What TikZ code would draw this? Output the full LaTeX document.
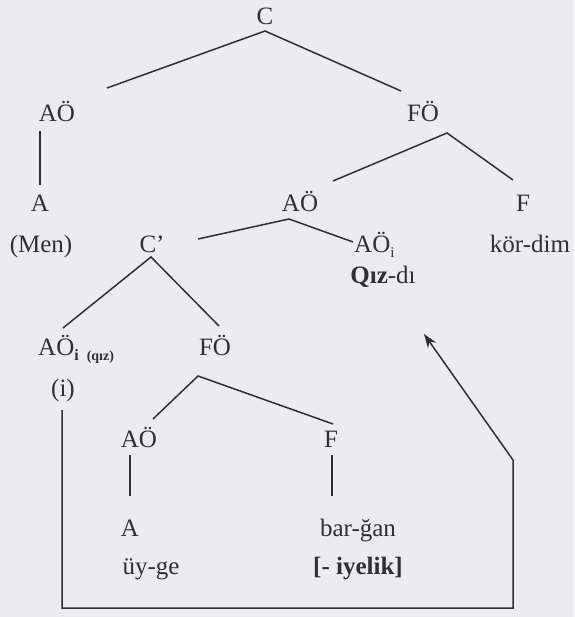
\documentclass[tikz,border=0pt]{standalone}
\usepackage{fontspec}
\setmainfont{Liberation Serif}
\usetikzlibrary{arrows.meta}
\definecolor{paper}{RGB}{236,236,239}
\definecolor{ink}{RGB}{48,48,52}
\begin{document}
\begin{tikzpicture}[x=1pt,y=-1pt,
  lbl/.style={anchor=base,inner sep=0pt,text=ink,font=\fontsize{25}{30}\selectfont},
  branch/.style={draw=ink,line width=1.5pt}]
\fill[paper] (0,0) rectangle (574,617);
\useasboundingbox (0,0) rectangle (574,617);
% labels
\node[lbl] (C) at (265,25) {C};
\node[lbl] (AO1) at (57,122) {AÖ};
\node[lbl] (FO1) at (423,122) {FÖ};
\node[lbl] (A1) at (40,212) {A};
\node[lbl] (AO2) at (300,212) {AÖ};
\node[lbl] (F1) at (523,212) {F};
\node[lbl] (Men) at (41,252) {(Men)};
\node[lbl] (Cp) at (152,252) {C’};
\node[lbl,anchor=base west] (AOi) at (354,252) {AÖ\raisebox{-0.22em}{\fontsize{15}{15}\selectfont i}};
\node[lbl] (kordim) at (530,252) {kör-dim};
\node[lbl] (qizdi) at (383,283) {\textbf{Qız}-dı};
\node[lbl,anchor=base west] (AOiq) at (38,355) {AÖ\raisebox{-0.22em}{\fontsize{16}{16}\selectfont\bfseries i\hspace{0.5em}\fontsize{14}{14}\selectfont(qız)}};
\node[lbl] (FO2) at (215,355) {FÖ};
\node[lbl] (i) at (63,396) {(i)};
\node[lbl] (AO3) at (139,447) {AÖ};
\node[lbl] (F2) at (331,447) {F};
\node[lbl] (A2) at (130,536) {A};
\node[lbl] (bargan) at (358,536) {bar-ğan};
\node[lbl] (uyge) at (151,574) {üy-ge};
\node[lbl] (iyelik) at (358,574) {\textbf{[- iyelik]}};
% branch points
\coordinate (c0) at (265,31);
\coordinate (c1) at (107,88);
\coordinate (c2) at (401,91);
\coordinate (a1t) at (40,131);
\coordinate (a1b) at (40,185);
\coordinate (f0) at (447,133);
\coordinate (f1) at (333,181);
\coordinate (f2) at (513,180);
\coordinate (n0) at (289,219);
\coordinate (n1) at (198,239);
\coordinate (n2) at (353,242);
\coordinate (p0) at (151,257);
\coordinate (p1) at (63,328);
\coordinate (p2) at (219,326);
\coordinate (g0) at (198,376);
\coordinate (g1) at (153,419);
\coordinate (g2) at (333,424);
\coordinate (v1t) at (130,455);
\coordinate (v1b) at (130,496);
\coordinate (v2t) at (332,455);
\coordinate (v2b) at (332,496);
\coordinate (b0) at (62,410);
\coordinate (b1) at (62,608);
\coordinate (b2) at (513,608);
\coordinate (b3) at (513,460);
\coordinate (tip) at (424,334);
% branches
\draw[branch] (c1) -- (c0) -- (c2);
\draw[branch] (a1t) -- (a1b);
\draw[branch] (f1) -- (f0) -- (f2);
\draw[branch] (n1) -- (n0) -- (n2);
\draw[branch] (p1) -- (p0) -- (p2);
\draw[branch] (g1) -- (g0) -- (g2);
\draw[branch] (v1t) -- (v1b);
\draw[branch] (v2t) -- (v2b);
% movement arrow
\draw[branch,line join=miter,-{Stealth[length=14pt,width=10pt]}] (b0) -- (b1) -- (b2) -- (b3) -- (tip);
\end{tikzpicture}
\end{document}
